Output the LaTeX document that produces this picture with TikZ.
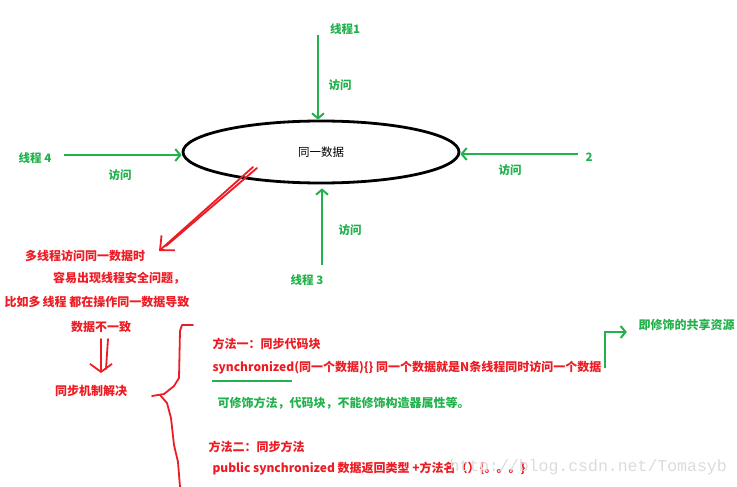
\documentclass[tikz,border=0pt]{standalone}
\usepackage{fontspec}
\setmainfont{Noto Sans CJK SC}
\newfontfamily\markfont{Liberation Mono}
\usetikzlibrary{arrows.meta,shapes.geometric}

\definecolor{paintgreen}{RGB}{34,177,76}
\definecolor{paintred}{RGB}{237,28,36}

\tikzset{
  thread/.style={text=paintgreen, font=\bfseries\fontsize{11.5}{13}\selectfont},
  note/.style={text=paintred, font=\bfseries\fontsize{12}{14}\selectfont},
  greennote/.style={text=paintgreen, font=\bfseries\fontsize{12}{14}\selectfont},
  access/.style={draw=paintgreen, line width=2pt, -{Straight Barb[length=5pt,width=12pt]}},
  sketch/.style={draw=paintred, line width=1.8pt, line cap=round, line join=round}
}

\begin{document}
\begin{tikzpicture}[x=1pt,y=-1pt]
    \useasboundingbox (0,0) rectangle (737,487);

    % Shared data
    \node[ellipse, draw, line width=2.8pt, minimum width=276pt, minimum height=62pt,
          font=\fontsize{11.5}{13}\selectfont] (data) at (321,152) {同一数据};

    % Threads
    \node[thread] (t1) at (345,29) {线程1};
    \node[thread] (t2) at (589,157) {2};
    \node[thread] (t3) at (307,280) {线程 3};
    \node[thread] (t4) at (35,158) {线程 4};
    \coordinate (t1s) at (318,35);
    \coordinate (t2s) at (578,154);
    \coordinate (t3s) at (322,265);
    \coordinate (t4s) at (64,155);

    % Access arrows
    \draw[access] (t1s) -- (t1s |- data.north);
    \draw[access] (t2s) -- (t2s -| data.east);
    \draw[access, shorten >=4pt] (t3s) -- (t3s |- data.south);
    \draw[access] (t4s) -- (t4s -| data.west);
    \node[thread] (a1) at (340,85) {访问};
    \node[thread] (a2) at (510,170) {访问};
    \node[thread] (a3) at (350,230) {访问};
    \node[thread] (a4) at (120,175) {访问};

    % Problem
    \coordinate (ps) at (253,167);
    \coordinate (pe) at (159,251);
    \draw[sketch, -{Straight Barb[length=11pt,width=20pt]}] (ps) -- (pe);
    \draw[sketch] (257,168) -- (166,246);
    \node[note] (p1) at (85,256) {多线程访问同一数据时};
    \node[note] (p2) at (119,278) {容易出现线程安全问题，};
    \node[note, anchor=west] (p3) at (1,302) {比如多\,线程 都在操作同一数据导致};
    \node[note] (p4) at (101,327) {数据不一致};

    % Solution
    \node[note] (sol) at (91,391) {同步机制解决};
    \coordinate (ds) at (101,339);
    \coordinate (de) at (101,373);
    \draw[sketch, -{Straight Barb[length=8pt,width=22pt]}] (ds) -- (de);
    \draw[sketch] (108,339) -- (106,369);

    % Brace
    \draw[sketch] (193,325) -- (182,325) -- (180,331) -- (179,378) -- (174,386)
      -- (164,394) -- (152,396);
    \draw[sketch] (160,395) -- (167,403) -- (171,418) -- (174,445) -- (178,462) -- (180,487);

    % Method one
    \node[note, anchor=west] (m1) at (209,344) {方法一：同步代码块};
    \node[note, anchor=west] (m1code) at (209,368)
      {synchronized(同一个数据)\{\} 同一个数据就是N条线程同时访问一个数据};
    \draw[paintgreen, line width=2pt] (212,381) -- (292,381);
    \node[greennote, anchor=west] (m1note) at (214,403) {可修饰方法，代码块，不能修饰构造器属性等。};
    \node[greennote, anchor=west] (res) at (635,325) {即修饰的共享资源};
    \draw[access] (m1code.east) -- ++(0,-36) -- ++(22,0);

    % Method two
    \node[note, anchor=west] (m2) at (205,447) {方法二：同步方法};
    \node[note, anchor=west] (m2code) at (209,469) {public synchronized 数据返回类型 +方法名（）\{。。。\}};

    % Watermark
    \node[text=black!14, font=\markfont\fontsize{16.5}{18}\selectfont, anchor=west] (mark) at (446,467)
      {http://blog.csdn.net/Tomasyb};
\end{tikzpicture}
\end{document}
